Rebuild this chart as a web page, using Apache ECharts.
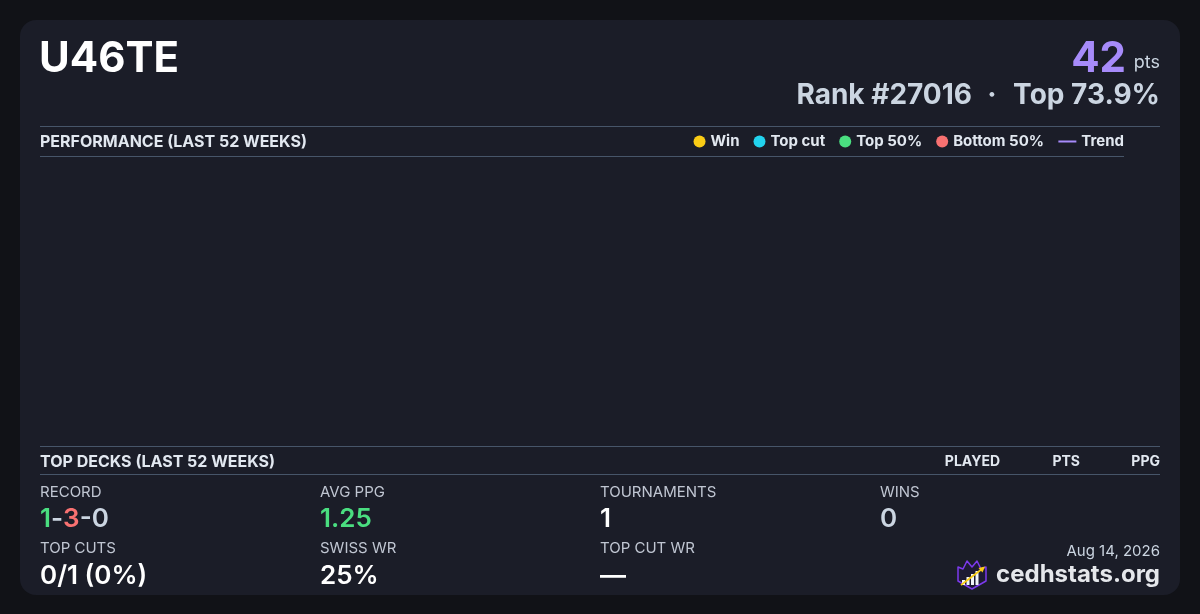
<!DOCTYPE html>
<html>
<head>
<meta charset="utf-8">
<script src="https://cdn.jsdelivr.net/npm/echarts@6/dist/echarts.min.js"></script>
<style>
html,body{margin:0;padding:0;background:#111217;}
#chart{width:1200px;height:614px;}
</style>
</head>
<body>
<div id="chart"></div>
<script>
// ---- data ----
const playerName = 'U46TE';
const points = 42;
const rankText = 'Rank #27016';
const topText = 'Top 73.9%';
const reportDate = 'Aug 14, 2026';
const siteName = 'cedhstats.org';

// performance chart (no events in last 52 weeks)
const weeks = [];
const winData = [];
const topCutData = [];
const top50Data = [];
const bottom50Data = [];
const trendData = [];
const legendNames = ['Win', 'Top cut', 'Top 50%', 'Bottom 50%'];
const legendColors = ['#facc15', '#22d3ee', '#4ade80', '#f87171'];
const trendName = 'Trend';

// top decks table headers
const deckHeaders = ['PLAYED', 'PTS', 'PPG'];

// stats
const recordWins = 1, recordLosses = 3, recordDraws = 0;
const statLabelsRow1 = ['RECORD', 'AVG PPG', 'TOURNAMENTS', 'WINS'];
const statValuesRow1 = ['1-3-0', '1.25', '1', '0'];
const statLabelsRow2 = ['TOP CUTS', 'SWISS WR', 'TOP CUT WR'];
const statValuesRow2 = ['0/1 (0%)', '25%', '\u2014'];

// ---- rendering ----
const FONT = 'Inter, "Noto Sans", sans-serif';
const LINE = '#475569';
const chart = echarts.init(document.getElementById('chart'));

const colX = [40, 320, 600, 880];
const g = [];
function txt(text, x, y, size, weight, fill, align) {
  g.push({type: 'text', silent: true, style: {
    text: text, x: x, y: y, fill: fill,
    font: weight + ' ' + size + 'px ' + FONT,
    textAlign: align || 'left', textVerticalAlign: 'middle'
  }});
}
function hline(x1, x2, y) {
  g.push({type: 'line', silent: true, shape: {x1: x1, y1: y, x2: x2, y2: y},
    style: {stroke: LINE, lineWidth: 1}});
}

// card
g.push({type: 'rect', silent: true, z: -10,
  shape: {x: 20, y: 20, width: 1160, height: 575, r: 16},
  style: {fill: '#1b1d28'}});

// header
txt(playerName, 39, 59, 42, 'bold', '#ffffff');
txt(String(points), 1126, 59, 42, 'bold', '#a78bfa', 'right');
txt('pts', 1160, 63, 18, 'normal', '#cbd5e1', 'right');
txt(topText, 1160, 96, 28, 'bold', '#cbd5e1', 'right');
txt('\u00b7', 992, 96, 28, 'bold', '#cbd5e1', 'center');
txt(rankText, 972, 96, 28, 'bold', '#cbd5e1', 'right');

hline(40, 1160, 126.5);
txt('PERFORMANCE (LAST 52 WEEKS)', 40, 142, 16, 'bold', '#e2e8f0');
hline(40, 1124, 156.5);

hline(40, 1160, 446.5);
txt('TOP DECKS (LAST 52 WEEKS)', 40, 462, 16, 'bold', '#e2e8f0');
const hdrRight = [1000, 1080, 1160];
deckHeaders.forEach((h, i) => txt(h, hdrRight[i], 462, 14, 'bold', '#e2e8f0', 'right'));
hline(40, 1160, 474.5);

// stats
const LABEL = '#c0c6d2';
statLabelsRow1.forEach((l, i) => txt(l, colX[i], 492, 15, 'normal', LABEL));
statLabelsRow2.forEach((l, i) => txt(l, colX[i], 548, 15, 'normal', LABEL));
// record with coloured parts
g.push({type: 'text', silent: true, style: {
  text: '{w|' + recordWins + '}{m|-}{l|' + recordLosses + '}{m|-' + recordDraws + '}',
  x: colX[0], y: 519, textVerticalAlign: 'middle',
  font: '600 26px ' + FONT,
  rich: {
    w: {fill: '#4ade80', font: '600 26px ' + FONT},
    l: {fill: '#f87171', font: '600 26px ' + FONT},
    m: {fill: '#cbd5e1', font: '600 26px ' + FONT}
  }
}});
const row1Colors = [null, '#4ade80', '#ffffff', '#cbd5e1'];
statValuesRow1.forEach((v, i) => { if (i > 0) txt(v, colX[i], 519, 26, '600', row1Colors[i]); });
statValuesRow2.forEach((v, i) => txt(v, colX[i], 576, 26, '600', '#ffffff'));

// footer
txt(reportDate, 1160, 551, 15, 'normal', '#cbd5e1', 'right');
txt(siteName, 1160, 575, 24, 'bold', '#e5e7eb', 'right');

// logo
g.push({type: 'polygon', silent: true, shape: {points: [
  [958, 567], [963, 569], [967, 561], [972, 567], [977, 561], [981, 569], [986, 567],
  [986, 581], [972, 589], [958, 581]]},
  style: {fill: '#1e1b33', stroke: '#7c3aed', lineWidth: 1.5, lineJoin: 'round'}});
[[962, 580, 3, 5], [966.5, 577, 3, 8], [971, 574, 3, 11], [975.5, 571, 3, 14]].forEach(b => {
  g.push({type: 'rect', silent: true, shape: {x: b[0], y: b[1], width: b[2], height: b[3]},
    style: {fill: '#f1f5f9'}});
});
g.push({type: 'line', silent: true, shape: {x1: 961, y1: 585, x2: 982, y2: 569},
  style: {stroke: '#facc15', lineWidth: 1.6}});
g.push({type: 'polygon', silent: true, shape: {points: [[985, 566.5], [978.5, 568], [982.5, 572.5]]},
  style: {fill: '#facc15'}});

const legendText = {color: '#e2e8f0', fontWeight: 'bold', fontSize: 15, fontFamily: FONT};

const option = {
  backgroundColor: 'transparent',
  animation: false,
  graphic: {elements: g},
  legend: [
    {data: legendNames, right: 156, top: 134, icon: 'circle', itemWidth: 12, itemHeight: 12,
     itemGap: 14, padding: 0, textStyle: legendText, selectedMode: false},
    {data: [{name: trendName, icon: 'path://M0,5 L18,5 L18,7 L0,7 Z'}], right: 76, top: 134,
     itemWidth: 18, itemHeight: 12, padding: 0, textStyle: legendText, selectedMode: false}
  ],
  grid: {left: 40, right: 76, top: 160, bottom: 172},
  xAxis: {type: 'category', data: weeks, show: false},
  yAxis: {type: 'value', show: false},
  series: [
    {name: legendNames[0], type: 'scatter', data: winData, itemStyle: {color: legendColors[0], opacity: 1}},
    {name: legendNames[1], type: 'scatter', data: topCutData, itemStyle: {color: legendColors[1], opacity: 1}},
    {name: legendNames[2], type: 'scatter', data: top50Data, itemStyle: {color: legendColors[2], opacity: 1}},
    {name: legendNames[3], type: 'scatter', data: bottom50Data, itemStyle: {color: legendColors[3], opacity: 1}},
    {name: trendName, type: 'line', data: trendData, symbol: 'none', showSymbol: false,
     lineStyle: {color: '#a78bfa', width: 2}, itemStyle: {color: '#a78bfa'}}
  ]
};
chart.setOption(option);
</script>
</body>
</html>
